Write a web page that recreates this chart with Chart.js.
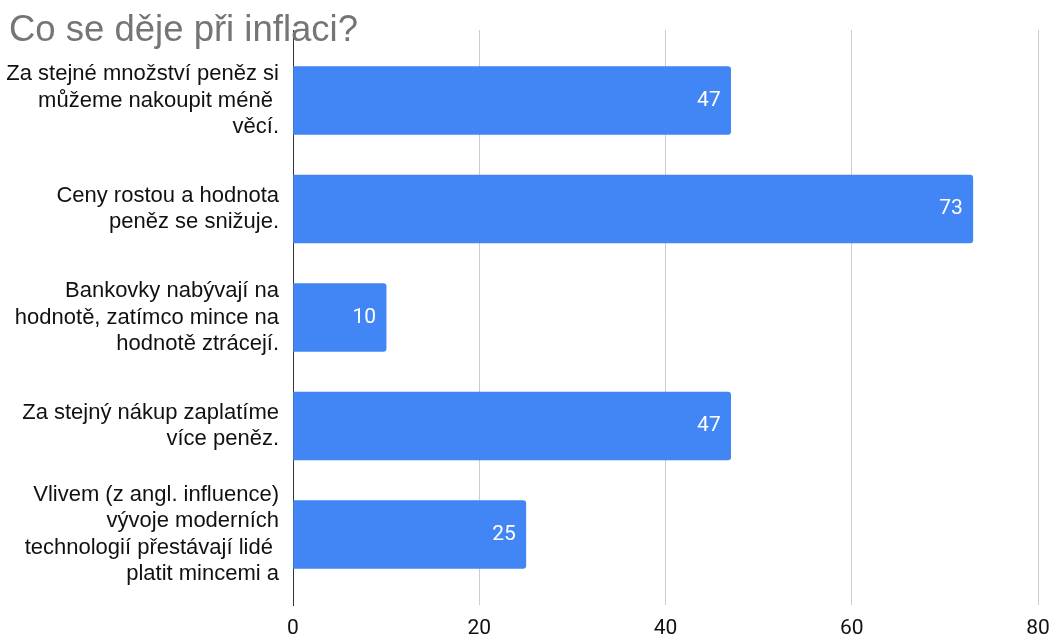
<!DOCTYPE html>
<html lang="cs">
<head>
<meta charset="utf-8">
<title>Co se děje při inflaci?</title>
<script src="https://cdn.jsdelivr.net/npm/chart.js@4/dist/chart.umd.min.js"></script>
<style>
  html, body { margin: 0; padding: 0; background: #fff; }
  #wrap { width: 1053px; height: 639px; }
</style>
</head>
<body>
<div id="wrap"><canvas id="inflation-chart"></canvas></div>
<script>
// Survey answers (multi-line labels as Sheets wraps them)
const chartTitle = "Co se děje při inflaci?";
const answerLabels = [
  ["Za stejné množství peněz si", "můžeme nakoupit méně ", "věcí."],
  ["Ceny rostou a hodnota", "peněz se snižuje."],
  ["Bankovky nabývají na", "hodnotě, zatímco mince na", "hodnotě ztrácejí."],
  ["Za stejný nákup zaplatíme", "více peněz."],
  ["Vlivem (z angl. influence)", "vývoje moderních", "technologií přestávají lidé ", "platit mincemi a"]
];
const answerCounts = [47, 73, 10, 47, 25];
const xTicks = [0, 20, 40, 60, 80];

const chartCanvas = document.getElementById("inflation-chart");

// title sits over the top of the plot, so it is drawn by hand
const titleOverlay = {
  id: "titleOverlay",
  afterDraw(chart) {
    const ctx = chart.ctx;
    ctx.save();
    ctx.font = "36.5px 'Liberation Sans', Arial, sans-serif";
    ctx.fillStyle = "#757575";
    ctx.textAlign = "left";
    ctx.textBaseline = "alphabetic";
    ctx.fillText(chartTitle, 9, 41);
    ctx.restore();
  }
};

// writes the value inside the end of each bar
const barValues = {
  id: "barValues",
  afterDatasetsDraw(chart) {
    const ctx = chart.ctx;
    const meta = chart.getDatasetMeta(0);
    ctx.save();
    ctx.font = "21px Roboto";
    ctx.fillStyle = "#ffffff";
    ctx.textAlign = "right";
    ctx.textBaseline = "middle";
    meta.data.forEach((bar, i) => {
      ctx.fillText(String(answerCounts[i]), bar.x - 10, bar.y);
    });
    ctx.restore();
  }
};

new Chart(chartCanvas.getContext("2d"), {
  type: "bar",
  data: {
    datasets: [{
      data: answerCounts.map((v, i) => ({ x: v, y: i })),
      backgroundColor: "#4285f4",
      borderRadius: 3,
      barThickness: 68
    }]
  },
  plugins: [barValues, titleOverlay],
  options: {
    indexAxis: "y",
    responsive: true,
    maintainAspectRatio: false,
    animation: false,
    layout: { padding: { left: 0, right: 15, top: 30, bottom: 0 } },
    plugins: {
      legend: { display: false },
      tooltip: { enabled: false },
      title: { display: false }
    },
    scales: {
      x: {
        type: "linear",
        min: 0,
        max: 80,
        afterBuildTicks: (scale) => { scale.ticks = xTicks.map(v => ({ value: v })); },
        afterFit: (scale) => {
          scale.height = 34;
          scale.paddingLeft = 0;
          scale.paddingRight = 0;
        },
        grid: {
          color: (c) => c.tick && c.tick.value === 0 ? "rgba(0,0,0,0)" : "#cccccc",
          lineWidth: 1,
          drawTicks: false
        },
        border: { display: false },
        ticks: {
          color: "#111111",
          font: { family: "Roboto", size: 21 },
          padding: 11
        }
      },
      y: {
        type: "linear",
        min: -0.65,
        max: 4.65,
        reverse: true,
        offset: false,
        afterBuildTicks: (scale) => { scale.ticks = answerLabels.map((l, i) => ({ value: i })); },
        afterFit: (scale) => {
          scale.width = 293;
          scale.paddingTop = 0;
          scale.paddingBottom = 0;
        },
        grid: { display: false, drawTicks: false, offset: false },
        border: { display: true, color: "#333333", width: 1 },
        ticks: {
          color: "#111111",
          font: { family: "'Liberation Sans', Arial, sans-serif", size: 22, lineHeight: "26.5px" },
          padding: 14,
          callback: (value) => answerLabels[value]
        }
      }
    }
  }
});
</script>
</body>
</html>
